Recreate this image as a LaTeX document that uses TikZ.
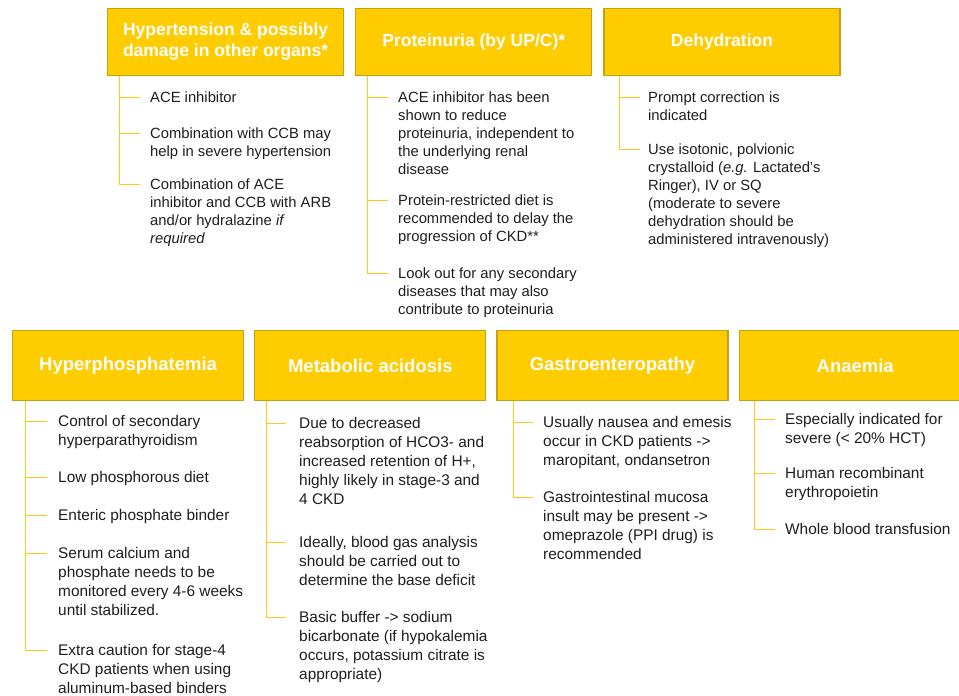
\documentclass[tikz,border=0pt]{standalone}
\usepackage{fontspec}
\setmainfont{Liberation Sans}
\usetikzlibrary{positioning}

\definecolor{gold}{RGB}{255,204,0}
\definecolor{golddark}{RGB}{196,160,20}
\definecolor{branchcol}{RGB}{252,200,20}
\definecolor{txt}{RGB}{30,30,30}

\begin{document}
\begin{tikzpicture}[x=1pt,y=-1pt,
  box/.style={draw=golddark,line width=1.2pt,fill=gold,text=white,align=center,inner sep=0pt,
    font=\bfseries\fontsize{17.5}{21}\selectfont,minimum width=236pt,minimum height=67pt},
  lowbox/.style={box,font=\bfseries\fontsize{18.5}{22}\selectfont,minimum width=231pt,minimum height=70pt},
  item/.style={anchor=north west,yshift=5.5pt,align=left,inner sep=0pt,text=txt,
    font=\fontsize{14.8}{18}\selectfont},
  lowitem/.style={item,font=\fontsize{15.4}{19}\selectfont},
  branch/.style={draw=branchcol,line width=1pt}]
  \useasboundingbox (0,0) rectangle (959,696);

  \node[box,anchor=north west] (hyp) at (107,7.5) {Hypertension \& possibly\\damage in other organs*};
  \node[box,right=11pt of hyp] (prot) {Proteinuria (by UP/C)*};
  \node[box,right=11pt of prot] (dehyd) {Dehydration};

  \node[lowbox,anchor=north west] (phos) at (12,330) {Hyperphosphatemia};
  \node[lowbox,right=10pt of phos] (acid) {Metabolic acidosis};
  \node[lowbox,right=10pt of acid] (gastro) {Gastroenteropathy};
  \node[lowbox,right=10pt of gastro,minimum width=232pt] (anaem) {Anaemia};

  \node[item] (hypa) at (150,97) {ACE inhibitor};
  \node[item] (hypb) at (150,133) {Combination with CCB may\\help in severe hypertension};
  \node[item] (hypc) at (150,184) {Combination of ACE\\inhibitor and CCB with ARB\\and/or hydralazine \textit{if}\\\textit{required}};

  \node[item] (prota) at (398,97) {ACE inhibitor has been\\shown to reduce\\proteinuria, independent to\\the underlying renal\\disease};
  \node[item] (protb) at (398,200) {Protein-restricted diet is\\recommended to delay the\\progression of CKD**};
  \node[item] (protc) at (398,273) {Look out for any secondary\\diseases that may also\\contribute to proteinuria};

  \node[item] (dehyda) at (648,97) {Prompt correction is\\indicated};
  \node[item] (dehydb) at (648,149) {Use isotonic, polvionic\\crystalloid (\textit{e.g.} Lactated’s\\Ringer), IV or SQ\\(moderate to severe\\dehydration should be\\administered intravenously)};

  \node[lowitem] (phosa) at (58,421) {Control of secondary\\hyperparathyroidism};
  \node[lowitem] (phosb) at (58,477) {Low phosphorous diet};
  \node[lowitem] (phosc) at (58,515) {Enteric phosphate binder};
  \node[lowitem] (phosd) at (58,553) {Serum calcium and\\phosphate needs to be\\monitored every 4-6 weeks\\until stabilized.};
  \node[lowitem] (phose) at (58,650) {Extra caution for stage-4\\CKD patients when using\\aluminum-based binders};

  \node[lowitem] (acida) at (299,423) {Due to decreased\\reabsorption of HCO3- and\\increased retention of H+,\\highly likely in stage-3 and\\4 CKD};
  \node[lowitem] (acidb) at (299,542) {Ideally, blood gas analysis\\should be carried out to\\determine the base deficit};
  \node[lowitem] (acidc) at (299,617) {Basic buffer -> sodium\\bicarbonate (if hypokalemia\\occurs, potassium citrate is\\appropriate)};

  \node[lowitem] (gastroa) at (543,422) {Usually nausea and emesis\\occur in CKD patients ->\\maropitant, ondansetron};
  \node[lowitem] (gastrob) at (543,497) {Gastrointestinal mucosa\\insult may be present ->\\omeprazole (PPI drug) is\\recommended};

  \node[lowitem] (anaema) at (785,419) {Especially indicated for\\severe (< 20\% HCT)};
  \node[lowitem] (anaemb) at (785,473) {Human recombinant\\erythropoietin};
  \node[lowitem] (anaemc) at (785,529) {Whole blood transfusion};

  \draw[branch] (hypc.north west) ++(-31,5.5) coordinate (hz) -- (hz |- hyp.south);
  \draw[branch] (hypa.north west) ++(-31,5.5) -- ++(21,0);
  \draw[branch] (hypb.north west) ++(-31,5.5) -- ++(21,0);
  \draw[branch] (hypc.north west) ++(-31,5.5) -- ++(21,0);

  \draw[branch] (protc.north west) ++(-31,5.5) coordinate (pz) -- (pz |- prot.south);
  \draw[branch] (prota.north west) ++(-31,5.5) -- ++(21,0);
  \draw[branch] (protb.north west) ++(-31,5.5) -- ++(21,0);
  \draw[branch] (protc.north west) ++(-31,5.5) -- ++(21,0);

  \draw[branch] (dehydb.north west) ++(-29,5.5) coordinate (dz) -- (dz |- dehyd.south);
  \draw[branch] (dehyda.north west) ++(-29,5.5) -- ++(21,0);
  \draw[branch] (dehydb.north west) ++(-29,5.5) -- ++(21,0);

  \draw[branch] (phose.north west) ++(-33,5.5) coordinate (fz) -- (fz |- phos.south);
  \draw[branch] (phosa.north west) ++(-33,5.5) -- ++(22,0);
  \draw[branch] (phosb.north west) ++(-33,5.5) -- ++(22,0);
  \draw[branch] (phosc.north west) ++(-33,5.5) -- ++(22,0);
  \draw[branch] (phosd.north west) ++(-33,5.5) -- ++(22,0);
  \draw[branch] (phose.north west) ++(-33,5.5) -- ++(22,0);

  \draw[branch] (acidc.north west) ++(-33,5.5) coordinate (az) -- (az |- acid.south);
  \draw[branch] (acida.north west) ++(-33,5.5) -- ++(20,0);
  \draw[branch] (acidb.north west) ++(-33,5.5) -- ++(20,0);
  \draw[branch] (acidc.north west) ++(-33,5.5) -- ++(20,0);

  \draw[branch] (gastrob.north west) ++(-30,5.5) coordinate (gz) -- (gz |- gastro.south);
  \draw[branch] (gastroa.north west) ++(-30,5.5) -- ++(20,0);
  \draw[branch] (gastrob.north west) ++(-30,5.5) -- ++(20,0);

  \draw[branch] (anaemc.north west) ++(-31,5.5) coordinate (ez) -- (ez |- anaem.south);
  \draw[branch] (anaema.north west) ++(-31,5.5) -- ++(21,0);
  \draw[branch] (anaemb.north west) ++(-31,5.5) -- ++(21,0);
  \draw[branch] (anaemc.north west) ++(-31,5.5) -- ++(21,0);
\end{tikzpicture}
\end{document}
